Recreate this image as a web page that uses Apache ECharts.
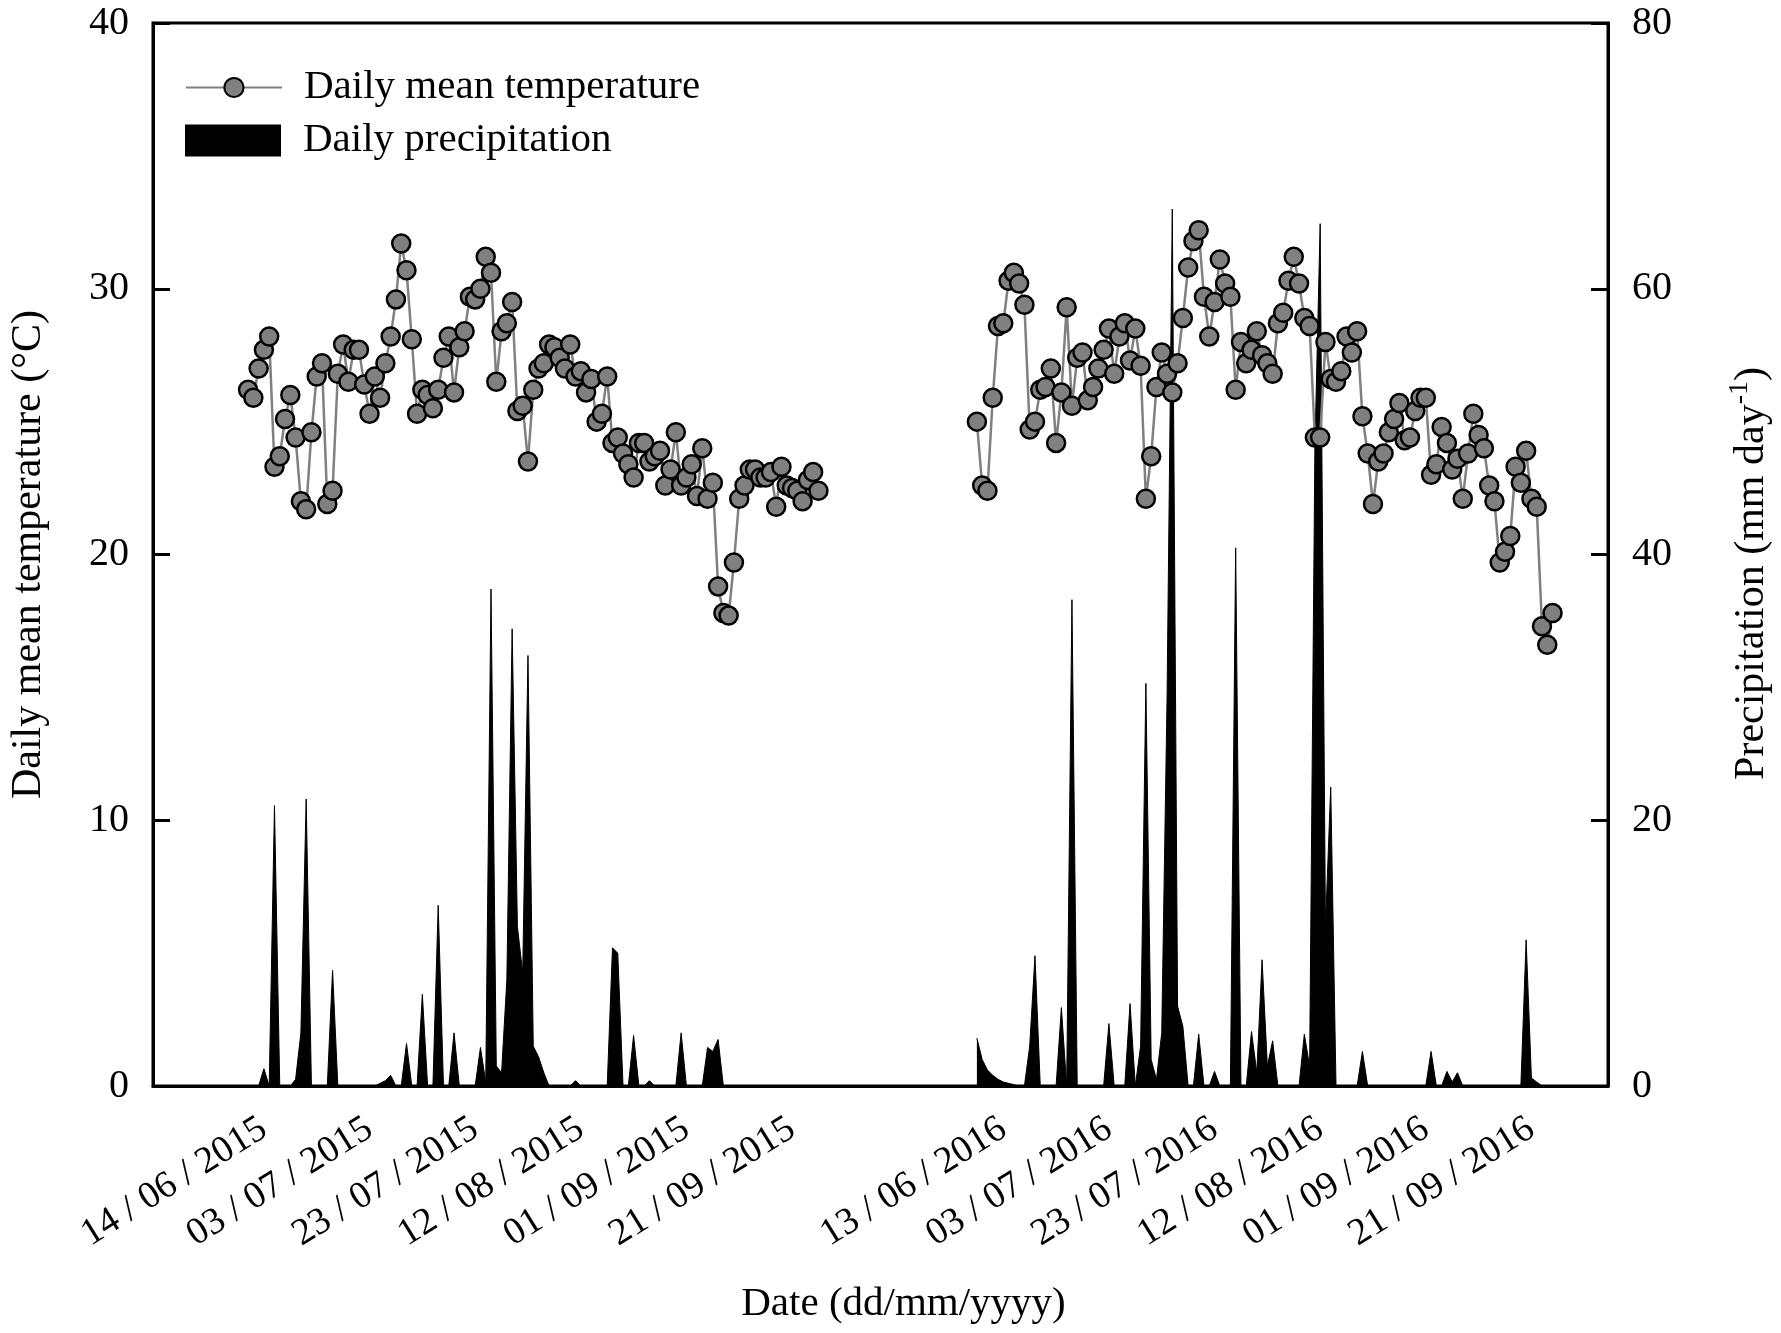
<!DOCTYPE html>
<html>
<head>
<meta charset="utf-8">
<title>Daily mean temperature and precipitation</title>
<script src="https://cdn.jsdelivr.net/npm/echarts@6/dist/echarts.min.js"></script>
<style>
  html, body { margin: 0; padding: 0; background: #fff; }
  #chart { width: 1781px; height: 1333px; }
</style>
</head>
<body>
<div id="chart"></div>
<script>
// x axis is a running day count: 2015 season first, then 2016 season after a gap
const tickDays = [21, 41, 61, 81, 101, 121, 161, 181, 201, 221, 241, 261];
const tickLabels = [
  '14 / 06 / 2015', '03 / 07 / 2015', '23 / 07 / 2015', '12 / 08 / 2015', '01 / 09 / 2015', '21 / 09 / 2015',
  '13 / 06 / 2016', '03 / 07 / 2016', '23 / 07 / 2016', '12 / 08 / 2016', '01 / 09 / 2016', '21 / 09 / 2016'
];

const start2015 = 18;   // axis day of first 2015 reading
const start2016 = 156;  // axis day of first 2016 reading

const temp2015 = [
  26.2, 25.9, 27.0, 27.7, 28.2, 23.3, 23.7, 25.1, 26.0, 24.4,
  22.0, 21.7, 24.6, 26.7, 27.2, 21.9, 22.4, 26.8, 27.9, 26.5,
  27.7, 27.7, 26.4, 25.3, 26.7, 25.9, 27.2, 28.2, 29.6, 31.7,
  30.7, 28.1, 25.3, 26.2, 26.0, 25.5, 26.2, 27.4, 28.2, 26.1,
  27.8, 28.4, 29.7, 29.6, 30.0, 31.2, 30.6, 26.5, 28.4, 28.7,
  29.5, 25.4, 25.6, 23.5, 26.2, 27.0, 27.2, 27.9, 27.8, 27.4,
  27.0, 27.9, 26.7, 26.9, 26.1, 26.6, 25.0, 25.3, 26.7, 24.2,
  24.4, 23.8, 23.4, 22.9, 24.2, 24.2, 23.5, 23.7, 23.9, 22.6,
  23.2, 24.6, 22.6, 22.9, 23.4, 22.2, 24.0, 22.1, 22.7, 18.8,
  17.8, 17.7, 19.7, 22.1, 22.6, 23.2, 23.2, 22.9, 22.9, 23.1,
  21.8, 23.3, 22.6, 22.5, 22.4, 22.0, 22.8, 23.1, 22.4
];

const temp2016 = [
  25.0, 22.6, 22.4, 25.9, 28.6, 28.7, 30.3, 30.6, 30.2, 29.4,
  24.7, 25.0, 26.2, 26.3, 27.0, 24.2, 26.1, 29.3, 25.6, 27.4,
  27.6, 25.8, 26.3, 27.0, 27.7, 28.5, 26.8, 28.2, 28.7, 27.3,
  28.5, 27.1, 22.1, 23.7, 26.3, 27.6, 26.8, 26.1, 27.2, 28.9,
  30.8, 31.8, 32.2, 29.7, 28.2, 29.5, 31.1, 30.2, 29.7, 26.2,
  28.0, 27.2, 27.7, 28.4, 27.5, 27.2, 26.8, 28.7, 29.1, 30.3,
  31.2, 30.2, 28.9, 28.6, 24.4, 24.4, 28.0, 26.6, 26.5, 26.9,
  28.2, 27.6, 28.4, 25.2, 23.8, 21.9, 23.5, 23.8, 24.6, 25.1,
  25.7, 24.3, 24.4, 25.4, 25.9, 25.9, 23.0, 23.4, 24.8, 24.2,
  23.2, 23.6, 22.1, 23.8, 25.3, 24.5, 24.0, 22.6, 22.0, 19.7,
  20.1, 20.7, 23.3, 22.7, 23.9, 22.1, 21.8, 17.3, 16.6, 17.8
];

const prec2015 = [
  0, 0, 0, 1.3, 0, 21.1, 0, 0, 0, 0.5,
  4, 21.6, 0, 0, 0, 0, 8.7, 0, 0, 0,
  0, 0, 0, 0, 0, 0.2, 0.4, 0.8, 0, 0,
  3.2, 0, 0, 6.9, 0, 0, 13.6, 0, 0, 4.0,
  0, 0, 0, 0, 2.9, 0.3, 37.4, 1.5, 1.0, 8,
  34.4, 12, 8.5, 32.4, 3, 2.2, 1, 0, 0, 0,
  0, 0, 0.4, 0, 0, 0, 0, 0, 0, 10.4,
  10.0, 0, 0, 3.8, 0, 0, 0.4, 0, 0, 0,
  0, 0, 4.0, 0, 0, 0, 0, 2.9, 2.6, 3.5,
  0, 0, 0, 0, 0, 0, 0, 0, 0, 0,
  0, 0, 0, 0, 0, 0, 0, 0, 0
];

const prec2016 = [
  3.6, 2.0, 1.2, 0.8, 0.5, 0.3, 0.2, 0.1, 0, 0,
  3, 9.8, 0, 0, 0, 0, 5.9, 0, 36.6, 0,
  0, 0, 0, 0, 0, 4.7, 0, 0, 0, 6.2,
  0, 3, 30.3, 2, 0.5, 4, 29, 66, 6, 4.5,
  0, 0, 3.9, 0, 0, 1.1, 0, 0, 0, 40.5,
  0, 0, 4.1, 1, 9.5, 1.5, 3.4, 0, 0, 0,
  0, 0, 3.9, 1.5, 48, 64.9, 12, 22.5, 0, 0,
  0, 0, 0, 2.6, 0, 0, 0, 0, 0, 0,
  0, 0, 0, 0, 0, 0, 2.6, 0, 0, 1.1,
  0.3, 1.0, 0, 0, 0, 0, 0, 0, 0, 0,
  0, 0, 0, 0, 11.0, 0.6, 0.3, 0, 0, 0
];

const FONT = '"Liberation Serif", "Times New Roman", serif';
const TEMP = 'Daily mean temperature';
const PREC = 'Daily precipitation';

const toPairs = (arr, start) => arr.map((v, i) => [start + i, v]);

const labelOf = {};
tickDays.forEach((d, i) => { labelOf[d] = tickLabels[i]; });

const axisLine = { show: true, lineStyle: { color: '#000', width: 3 } };
const axisTick = { show: true, inside: true, length: 17, lineStyle: { color: '#000', width: 3 } };
const tickText = { color: '#000', fontFamily: FONT, fontSize: 40, margin: 24 };
const nameText = { color: '#000', fontFamily: FONT, fontSize: 42 };
const legendText = { color: '#000', fontFamily: FONT, fontSize: 41, padding: [0, 0, 0, 17] };

function precSeries(arr, start) {
  return {
    name: PREC,
    type: 'line',
    yAxisIndex: 1,
    data: toPairs(arr, start),
    symbol: 'none',
    lineStyle: { color: '#000', width: 1 },
    itemStyle: { color: '#000' },
    areaStyle: { color: '#000', opacity: 1 },
    z: 2
  };
}

function tempSeries(arr, start) {
  return {
    name: TEMP,
    type: 'line',
    yAxisIndex: 0,
    data: toPairs(arr, start),
    symbol: 'circle',
    symbolSize: 18,
    lineStyle: { color: '#808080', width: 2.5 },
    itemStyle: { color: '#808080', borderColor: '#000', borderWidth: 2.5 },
    z: 5
  };
}

const chart = echarts.init(document.getElementById('chart'), null, { renderer: 'canvas' });

chart.setOption({
  animation: false,
  backgroundColor: '#fff',
  grid: {
    left: 148, right: 160, top: 23, bottom: 247,
    show: true, borderColor: '#000', borderWidth: 3
  },
  legend: [
    {
      data: [TEMP],
      left: 180, top: 62,
      itemWidth: 96, itemHeight: 24,
      selectedMode: false,
      textStyle: legendText
    },
    {
      data: [{ name: PREC, icon: 'rect' }],
      left: 180, top: 115,
      itemWidth: 96, itemHeight: 32,
      selectedMode: false,
      textStyle: legendText
    }
  ],
  xAxis: {
    type: 'value',
    min: 0,
    max: 275.5,
    axisLine: axisLine,
    axisTick: { show: false },
    splitLine: { show: false },
    axisLabel: {
      customValues: tickDays,
      formatter: (v) => labelOf[v] || '',
      rotate: 32,
      margin: 40,
      color: '#000',
      fontFamily: FONT,
      fontSize: 38
    },
    name: 'Date (dd/mm/yyyy)',
    nameLocation: 'middle',
    nameGap: 198,
    nameTextStyle: Object.assign({}, nameText, { fontSize: 41, padding: [0, 0, 0, 46] })
  },
  yAxis: [
    {
      type: 'value',
      position: 'left',
      min: 0, max: 40, interval: 10,
      axisLine: axisLine,
      axisTick: axisTick,
      splitLine: { show: false },
      axisLabel: tickText,
      name: 'Daily mean temperature (°C)',
      nameLocation: 'middle',
      nameRotate: 90,
      nameGap: 103,
      nameTextStyle: nameText
    },
    {
      type: 'value',
      position: 'right',
      min: 0, max: 80, interval: 20,
      axisLine: axisLine,
      axisTick: axisTick,
      splitLine: { show: false },
      axisLabel: tickText,
      name: 'Precipitation (mm day{sup|-1})',
      nameLocation: 'middle',
      nameRotate: 90,
      nameGap: 118,
      nameTextStyle: Object.assign({}, nameText, {
        padding: [0, 38, 0, 0],
        rich: {
          sup: { fontFamily: FONT, fontSize: 28, color: '#000', verticalAlign: 'bottom', padding: [0, 0, 24, 0] }
        }
      })
    }
  ],
  series: [
    precSeries(prec2015, start2015),
    precSeries(prec2016, start2016),
    tempSeries(temp2015, start2015),
    tempSeries(temp2016, start2016)
  ]
});
</script>
</body>
</html>
